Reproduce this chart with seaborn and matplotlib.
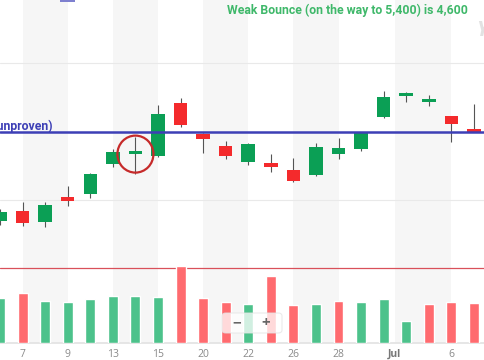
import numpy as np
import pandas as pd
import matplotlib
matplotlib.use("Agg")
import matplotlib.pyplot as plt
import seaborn as sns
from matplotlib.patches import Ellipse, FancyBboxPatch, Rectangle

# ---------------- data ----------------
dates = ["Jun 6", "Jun 7", "Jun 8", "Jun 9", "Jun 12", "Jun 13", "Jun 14", "Jun 15",
         "Jun 16", "Jun 20", "Jun 21", "Jun 22", "Jun 23", "Jun 26", "Jun 27", "Jun 28",
         "Jun 29", "Jun 30", "Jul 3", "Jul 5", "Jul 6", "Jul 7"]
opens = [4269, 4284, 4268, 4304, 4309, 4352, 4367, 4364, 4442, 4396, 4379, 4355,
         4354, 4344, 4336, 4367, 4374, 4421, 4452, 4443, 4423, 4404]
closes = [4282, 4266, 4293, 4298, 4338, 4370, 4371, 4425, 4409, 4389, 4364, 4382,
          4348, 4328, 4377, 4376, 4398, 4450, 4456, 4447, 4411, 4399]
highs = [4287, 4297, 4297, 4320, 4340, 4374, 4392, 4439, 4449, 4398, 4386, 4383,
         4367, 4361, 4383, 4390, 4399, 4459, 4458, 4453, 4423, 4440]
lows = [4263, 4262, 4260, 4291, 4303, 4348, 4338, 4363, 4406, 4368, 4360, 4351,
        4341, 4326, 4335, 4360, 4371, 4419, 4443, 4437, 4385, 4399]
volumes = [3.9, 4.35, 3.65, 3.55, 3.85, 4.1, 4.1, 4.0, 6.7, 3.9, 3.55, 3.4,
           5.85, 3.3, 3.4, 3.65, 3.55, 3.85, 1.9, 3.4, 3.55, 3.5]
vol_dir = ["up", "down", "up", "up", "up", "up", "up", "up", "down", "down", "down", "up",
           "down", "down", "up", "down", "up", "up", "up", "down", "down", "down"]

tick_pos = [1, 3, 5, 7, 9, 11, 13, 15, 17.5, 20]
tick_labels = ["7", "9", "13", "15", "20", "22", "26", "28", "Jul", "6"]
bands = [(1, 3), (5, 7), (9, 11), (13, 15), (17.5, 20)]
grid_levels = [4300, 4400, 4500]
resistance = 4400
vol_ref = 6.5
circled_idx = 6
title_txt = "Weak Bounce (on the way to 5,400) is 4,600"
line_txt = "Resistance 4,400 (unproven)"

# ---------------- style ----------------
sns.set_theme(style="white")
plt.rcParams['font.family'] = ['Open Sans', 'DejaVu Sans']

C_UP = "#0b9f55"
C_DN = "#f42a2c"
V_UP = "#4cc28b"
V_DN = "#ff6b6f"
BLUE = "#3d3fb6"
GREEN_TXT = "#3fb86a"

W, H = 485, 360
fig = plt.figure(figsize=(W / 100, H / 100), dpi=100)
fig.patch.set_facecolor("white")
ax = fig.add_axes([0, 17 / H, 1, 343 / H])
ax.set_facecolor("white")

n = len(dates)
x = np.arange(n)
o = np.array(opens, float)
c = np.array(closes, float)
hi = np.array(highs, float)
lo = np.array(lows, float)

for a, b in bands:
    ax.axvspan(a, b, color="#f6f6f6", lw=0, zorder=0)
for g in grid_levels:
    ax.axhline(g, color="#e9e9e9", lw=0.8, zorder=0.5)

ax.vlines(x, lo, hi, color="#555555", lw=0.8, zorder=2)
bottoms = np.minimum(o, c)
heights = np.maximum(np.abs(c - o), 2.5)
cols = [C_UP if cc >= oo else C_DN for oo, cc in zip(o, c)]
ax.bar(x, heights, bottom=bottoms, width=0.6, color=cols, lw=0, zorder=2.5)

ax.axhline(resistance, color=BLUE, lw=1.8, zorder=3)

# circle around the doji
px_per_slot = W / 21.49
px_per_pt = 0.685
cy = (o[circled_idx] + c[circled_idx]) / 2 - 2
ax.add_patch(Ellipse((circled_idx, cy), width=36 / px_per_slot, height=37 / px_per_pt,
                     fill=False, edgecolor="#c62a2a", lw=1.6, zorder=4))

ax.set_xlim(0, 21.49)
ax.set_ylim(4091.2, 4592)

# volume panel
vax = ax.twinx()
vdf = pd.DataFrame({"date": dates, "volume": volumes, "dir": vol_dir})
sns.barplot(data=vdf, x="date", y="volume", hue="dir", order=dates,
            palette={"up": V_UP, "down": V_DN}, dodge=False, width=0.44,
            saturation=1, legend=False, ax=vax, zorder=2)
vax.axhline(vol_ref, color="#d9505a", lw=0.9, zorder=1)
vax.axhline(0, color="#e2e2e2", lw=1.2, zorder=1, clip_on=False)
vax.set_ylim(0, 343 / 11.5)
vax.set_xlim(0, 21.49)
ax.set_xlim(0, 21.49)

for a_ in (ax, vax):
    for s in a_.spines.values():
        s.set_visible(False)
    a_.set_yticks([])
    a_.set_ylabel("")
    a_.set_xlabel("")

ax.set_xticks(tick_pos)
ax.set_xticklabels(tick_labels)
ax.tick_params(axis="x", length=0, colors="#8a8a8a", labelsize=7.5, pad=4)
for lab in ax.get_xticklabels():
    if lab.get_text() == "Jul":
        lab.set_fontweight("bold")
        lab.set_color("#777777")

# texts
ann_font = ['Roboto', 'DejaVu Sans']
t1 = fig.text(227 / W, 1 - 10.5 / H, title_txt, ha="left", va="center",
              fontsize=9, fontweight="bold", color=GREEN_TXT, family=ann_font)
fig.canvas.draw()
r = fig.canvas.get_renderer()
wpx = t1.get_window_extent(r).width
fs = 9 * 241 / wpx
t1.set_fontsize(fs)
fig.text(53 / W, 1 - 129.5 / H, line_txt, ha="right", va="baseline",
         fontsize=fs, fontweight="bold", color=BLUE, family=ann_font)

fig.text(476 / W, 1 - 31 / H, "Y", ha="left", va="center", fontsize=15,
         fontweight="bold", style="italic", color="#e2e2e2")

fig.add_artist(Rectangle((60 / W, 1 - 2 / H), 15 / W, 2 / H, transform=fig.transFigure,
                         color="#7e80cf", lw=0))

# zoom widget
fig.add_artist(FancyBboxPatch((222 / W, 1 - 333 / H), 60 / W, 20 / H,
                              boxstyle="round,pad=0,rounding_size=0.008",
                              transform=fig.transFigure, facecolor="white",
                              alpha=0.75, edgecolor="#e4e4e4", lw=0.8, zorder=5))
fig.text(237 / W, 1 - 323 / H, "\u2212", ha="center", va="center", fontsize=11,
         fontweight="bold", color="#666666", zorder=6)
fig.text(266 / W, 1 - 323 / H, "+", ha="center", va="center", fontsize=11,
         fontweight="bold", color="#666666", zorder=6)

fig.savefig("out.png", dpi=100)
